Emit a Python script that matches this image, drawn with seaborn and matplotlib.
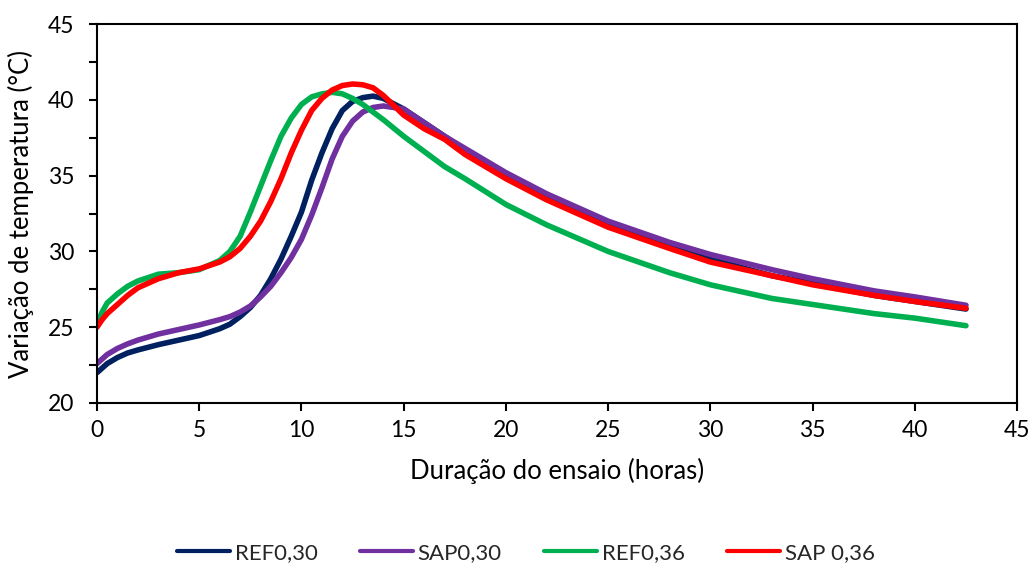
import matplotlib
matplotlib.use("Agg")
import matplotlib.pyplot as plt
import seaborn as sns
import pandas as pd
from matplotlib.ticker import MultipleLocator

# ---- data ----
hours = [0, 0.25, 0.5, 1, 1.5, 2, 3, 4, 5, 6, 6.5, 7, 7.5, 8, 8.5, 9, 9.5, 10, 10.5,
         11, 11.5, 12, 12.5, 13, 13.5, 14, 15, 16, 17, 18, 20, 22, 25, 28, 30, 33,
         35, 38, 40, 42.5]

ref030 = [22.0, 22.3, 22.6, 23.0, 23.3, 23.5, 23.85, 24.15, 24.45, 24.9, 25.2, 25.7, 26.3,
          27.1, 28.2, 29.5, 31.0, 32.6, 34.7, 36.5, 38.1, 39.3, 39.9, 40.15, 40.25, 40.1,
          39.4, 38.5, 37.6, 36.7, 35.0, 33.6, 31.8, 30.3, 29.5, 28.4, 27.9, 27.1, 26.7,
          26.2]
sap030 = [22.6, 22.9, 23.2, 23.6, 23.9, 24.15, 24.55, 24.85, 25.15, 25.5, 25.7, 26.0, 26.4,
          27.0, 27.7, 28.6, 29.6, 30.8, 32.4, 34.2, 36.1, 37.6, 38.6, 39.2, 39.5, 39.6,
          39.4, 38.5, 37.6, 36.8, 35.2, 33.8, 32.0, 30.6, 29.8, 28.8, 28.2, 27.4, 27.0,
          26.45]
ref036 = [25.2, 26.0, 26.6, 27.2, 27.7, 28.05, 28.5, 28.6, 28.8, 29.4, 30.0, 31.0, 32.6,
          34.3, 36.0, 37.6, 38.8, 39.7, 40.2, 40.4, 40.5, 40.4, 40.1, 39.7, 39.2, 38.7,
          37.6, 36.6, 35.6, 34.8, 33.1, 31.75, 30.0, 28.6, 27.8, 26.9, 26.5, 25.9, 25.6,
          25.1]
sap036 = [25.0, 25.5, 25.9, 26.5, 27.1, 27.6, 28.2, 28.6, 28.85, 29.3, 29.65, 30.2, 31.0,
          32.0, 33.3, 34.8, 36.5, 38.0, 39.3, 40.1, 40.65, 40.95, 41.05, 41.0, 40.8, 40.3,
          39.0, 38.1, 37.4, 36.4, 34.8, 33.4, 31.6, 30.2, 29.3, 28.4, 27.8, 27.1, 26.7,
          26.25]

series_names = ["REF0,30", "SAP0,30", "REF0,36", "SAP 0,36"]
series_values = [ref030, sap030, ref036, sap036]
colors = ["#002060", "#7030A0", "#00B050", "#FF0000"]

x_label = "Duração do ensaio (horas)"
y_label = "Variação de temperatura (°C)"

rows = []
for name, vals in zip(series_names, series_values):
    for h, v in zip(hours, vals):
        rows.append({"hours": h, "temp": v, "serie": name})
df = pd.DataFrame(rows)

sns.set_theme(style="white")
plt.rcParams["font.family"] = ["Lato", "DejaVu Sans"]

fig = plt.figure(figsize=(10.35, 5.68), dpi=100)
ax = fig.add_axes([0.0937, 0.2905, 0.889, 0.667])

sns.lineplot(data=df, x="hours", y="temp", hue="serie", hue_order=series_names,
             palette=colors, linewidth=4, ax=ax, sort=True, estimator=None,
             solid_capstyle="round", solid_joinstyle="round", legend=True)

ax.set_xlim(0, 45)
ax.set_ylim(20, 45)
ax.xaxis.set_major_locator(MultipleLocator(5))
ax.yaxis.set_major_locator(MultipleLocator(5))
ax.yaxis.set_minor_locator(MultipleLocator(2.5))
ax.tick_params(axis="both", which="both", direction="out", length=5.5, width=1.5,
               color="black", labelsize=16.5, labelcolor="black",
               left=True, bottom=True)
ax.tick_params(axis="x", pad=7)
ax.tick_params(axis="y", pad=11)
for s in ax.spines.values():
    s.set_visible(True)
    s.set_color("black")
    s.set_linewidth(1.5)

ax.set_xlabel(x_label, fontsize=18.5, color="black", labelpad=12)
ax.set_ylabel(y_label, fontsize=18.5, color="black", labelpad=10)

handles, labels = ax.get_legend_handles_labels()
for h in handles:
    h.set_linewidth(3)
ax.get_legend().remove()
fig.legend(handles, labels, loc="center", bbox_to_anchor=(0.508, 0.027), ncol=4,
           frameon=False, fontsize=16, handlelength=2.4, columnspacing=1.9,
           handletextpad=0.2)

fig.savefig("out.png", dpi=100)
